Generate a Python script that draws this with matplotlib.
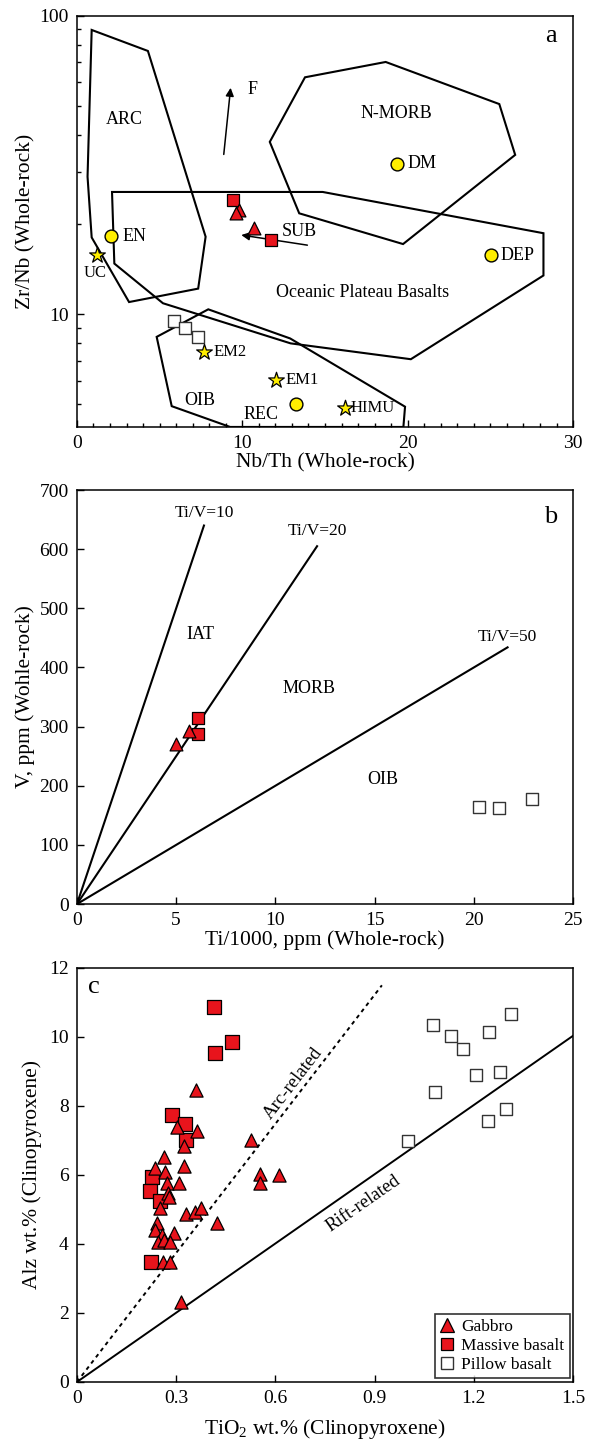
import numpy as np
import matplotlib
matplotlib.use("Agg")
import matplotlib.pyplot as plt
from matplotlib.lines import Line2D
from matplotlib.ticker import MultipleLocator, FixedLocator, NullFormatter, FuncFormatter

plt.rcParams['font.family'] = ['Liberation Serif', 'DejaVu Serif']
plt.rcParams['mathtext.fontset'] = 'custom'
plt.rcParams['mathtext.rm'] = 'Liberation Serif'
plt.rcParams['axes.linewidth'] = 1.1

# ---- panel a: Zr/Nb vs Nb/Th ----
arc_x = [0.89, 4.29, 7.78, 7.33, 3.15, 0.89, 0.64]
arc_y = [89.6, 76.2, 18.2, 12.2, 11.0, 18.1, 28.9]
nmorb_x = [13.79, 18.67, 25.54, 26.5, 19.72, 13.44, 11.66]
nmorb_y = [62.2, 70.0, 50.6, 34.2, 17.2, 21.8, 37.8]
opb_x = [2.12, 14.86, 28.21, 28.21, 20.19, 12.92, 5.20, 2.26]
opb_y = [25.7, 25.7, 18.7, 13.5, 7.08, 8.0, 10.9, 14.8]
oib_x = [4.82, 7.94, 12.89, 19.84, 19.74, 9.26, 5.73]
oib_y = [8.41, 10.4, 8.31, 4.91, 4.2, 4.2, 4.93]

circle_names = ['DM', 'DEP', 'EN', 'REC']
circle_x = [19.38, 25.02, 2.08, 13.23]
circle_y = [32.0, 15.8, 18.3, 5.0]
star_names = ['UC', 'EM2', 'EM1', 'HIMU']
star_x = [1.19, 7.68, 12.04, 16.21]
star_y = [15.8, 7.46, 6.03, 4.87]

a_gabbro_x = [9.77, 9.61, 10.68]
a_gabbro_y = [22.3, 21.8, 19.5]
a_massive_x = [9.43, 11.73]
a_massive_y = [24.2, 17.7]
a_pillow_x = [5.87, 6.53, 7.34]
a_pillow_y = [9.5, 9.02, 8.41]

# ---- panel b: V vs Ti/1000 ----
b_ratio = [10, 20, 50]
b_line_end_x = [6.4, 12.1, 21.7]
b_gabbro_x = [4.99, 5.66]
b_gabbro_y = [271, 293]
b_massive_x = [6.12, 6.12]
b_massive_y = [314, 288]
b_pillow_x = [20.28, 21.29, 22.94]
b_pillow_y = [164, 163, 177]

# ---- panel c: Alz vs TiO2 (clinopyroxene) ----
c_gabbro_x = [0.361, 0.301, 0.363, 0.325, 0.527, 0.264, 0.235, 0.265, 0.324,
              0.272, 0.308, 0.554, 0.554, 0.611, 0.275, 0.277, 0.250, 0.331,
              0.358, 0.374, 0.424, 0.242, 0.237, 0.293, 0.257, 0.244, 0.262,
              0.282, 0.260, 0.280, 0.315]
c_gabbro_y = [8.46, 7.40, 7.26, 6.84, 7.01, 6.53, 6.19, 6.10, 6.27,
              5.78, 5.78, 6.02, 5.78, 6.00, 5.47, 5.35, 5.03, 4.87,
              4.94, 5.03, 4.60, 4.60, 4.41, 4.31, 4.26, 4.07, 4.12,
              4.07, 3.49, 3.49, 2.33]
c_massive_x = [0.414, 0.417, 0.468, 0.288, 0.326, 0.329, 0.227, 0.220, 0.250, 0.225]
c_massive_y = [10.88, 9.53, 9.85, 7.74, 7.48, 7.01, 5.95, 5.54, 5.25, 3.49]
c_pillow_x = [1.077, 1.130, 1.166, 1.247, 1.312, 1.207, 1.279, 1.082, 1.297, 1.244, 1.001]
c_pillow_y = [10.35, 10.04, 9.65, 10.13, 10.66, 8.90, 8.99, 8.41, 7.90, 7.57, 6.99]
c_arc_slope, c_arc_end = 12.47, 0.922
c_rift_slope, c_rift_end = 6.69, 1.5

RED = '#e8141c'
YEL = '#ffee00'
TICK = 14
LAB = 15.5
ANN = 13

fig = plt.figure(figsize=(5.92, 14.4), dpi=100)
axa = fig.add_axes([0.130, 0.7035, 0.838, 0.2856])
axb = fig.add_axes([0.130, 0.3722, 0.838, 0.2875])
axc = fig.add_axes([0.130, 0.0403, 0.838, 0.2875])

for ax in (axa, axb, axc):
    ax.tick_params(direction='in', which='both', labelsize=TICK, width=1.0)
    ax.tick_params(which='major', length=5, pad=6)
    ax.tick_params(which='minor', length=3)

# panel a
for px, py in [(arc_x, arc_y), (nmorb_x, nmorb_y), (opb_x, opb_y), (oib_x, oib_y)]:
    axa.fill(px, py, facecolor='none', edgecolor='k', lw=1.5, zorder=2)
axa.annotate('', xy=(9.31, 58.6), xytext=(8.86, 33.6),
             arrowprops=dict(arrowstyle='-|>', color='k', lw=1.1, mutation_scale=12))
axa.annotate('', xy=(9.77, 18.5), xytext=(14.1, 17.0),
             arrowprops=dict(arrowstyle='-|>', color='k', lw=1.1, mutation_scale=12))
axa.text(10.3, 56.4, 'F', fontsize=ANN, ha='left', va='center')
axa.text(12.4, 18.9, 'SUB', fontsize=ANN, ha='left', va='center')
axa.text(2.87, 45.1, 'ARC', fontsize=ANN, ha='center', va='center')
axa.text(19.31, 47.1, 'N-MORB', fontsize=ANN, ha='center', va='center')
axa.text(17.26, 11.8, 'Oceanic Plateau Basalts', fontsize=ANN, ha='center', va='center')
axa.text(7.44, 5.16, 'OIB', fontsize=ANN, ha='center', va='center')

axa.scatter(circle_x, circle_y, s=85, marker='o', facecolor=YEL, edgecolor='k', lw=1.0, zorder=4)
axa.scatter(star_x, star_y, s=140, marker='*', facecolor=YEL, edgecolor='k', lw=0.9, zorder=4)
circle_off = [(7, 0, 'left'), (7, 0, 'left'), (8, 0, 'left'), (-25, -7, 'center')]
star_off = [(-1, -13, 'center'), (7, 0, 'left'), (7, 0, 'left'), (4, 0, 'left')]
for name, x, y, (dx, dy, ha) in zip(circle_names + star_names, circle_x + star_x,
                                    circle_y + star_y, circle_off + star_off):
    fs = 12 if name in ('UC', 'EM2', 'EM1', 'HIMU') else ANN
    axa.annotate(name, (x, y), xytext=(dx, dy), textcoords='offset points',
                 ha=ha, va='center', fontsize=fs)

axa.scatter(a_pillow_x, a_pillow_y, s=75, marker='s', facecolor='white', edgecolor='#333333', lw=1.0, zorder=3)
axa.scatter(a_massive_x, a_massive_y, s=80, marker='s', facecolor=RED, edgecolor='k', lw=0.9, zorder=3)
axa.scatter(a_gabbro_x, a_gabbro_y, s=85, marker='^', facecolor=RED, edgecolor='k', lw=0.9, zorder=3)

axa.set_yscale('log')
axa.set_xlim(0, 30)
axa.set_ylim(4.2, 100)
axa.xaxis.set_major_locator(MultipleLocator(10))
axa.xaxis.set_minor_locator(MultipleLocator(1))
axa.yaxis.set_major_locator(FixedLocator([10, 100]))
axa.yaxis.set_major_formatter(FuncFormatter(lambda v, _: f'{v:g}'))
axa.yaxis.set_minor_formatter(NullFormatter())
axa.set_xlabel('Nb/Th (Whole-rock)', fontsize=LAB, labelpad=1)
axa.set_ylabel('Zr/Nb (Whole-rock)', fontsize=LAB, labelpad=3)
axa.text(0.955, 0.95, 'a', transform=axa.transAxes, fontsize=19, ha='center', va='center')

# panel b
b_label_y = [662, 630, 452]
for r, xe, ly in zip(b_ratio, b_line_end_x, b_label_y):
    xs = np.array([0, xe])
    axb.plot(xs, 1000 * xs / r, color='k', lw=1.5, zorder=2)
    axb.text(xe, ly, f'Ti/V={r}', fontsize=12.5, ha='center', va='center')
axb.text(6.21, 456, 'IAT', fontsize=ANN, ha='center', va='center')
axb.text(11.7, 364, 'MORB', fontsize=ANN, ha='center', va='center')
axb.text(15.4, 211, 'OIB', fontsize=ANN, ha='center', va='center')
axb.scatter(b_pillow_x, b_pillow_y, s=80, marker='s', facecolor='white', edgecolor='#333333', lw=1.0, zorder=3)
axb.scatter(b_massive_x, b_massive_y, s=85, marker='s', facecolor=RED, edgecolor='k', lw=0.9, zorder=3)
axb.scatter(b_gabbro_x, b_gabbro_y, s=85, marker='^', facecolor=RED, edgecolor='k', lw=0.9, zorder=3)
axb.set_xlim(0, 25)
axb.set_ylim(0, 700)
axb.xaxis.set_major_locator(MultipleLocator(5))
axb.yaxis.set_major_locator(MultipleLocator(100))
axb.set_xlabel('Ti/1000, ppm (Whole-rock)', fontsize=LAB, labelpad=1)
axb.set_ylabel('V, ppm (Wohle-rock)', fontsize=LAB, labelpad=3)
axb.text(0.955, 0.935, 'b', transform=axb.transAxes, fontsize=19, ha='center', va='center')

# panel c
xa = np.array([0, c_arc_end])
axc.plot(xa, c_arc_slope * xa, color='k', lw=1.4, ls=(0, (2, 2)), zorder=2)
xr = np.array([0, c_rift_end])
axc.plot(xr, c_rift_slope * xr, color='k', lw=1.4, zorder=2)
axc.text(0.655, 8.65, 'Arc-related', fontsize=13.5, ha='center', va='center',
         rotation=np.degrees(np.arctan(c_arc_slope)), rotation_mode='anchor',
         transform_rotates_text=True)
axc.text(0.865, 5.18, 'Rift-related', fontsize=13.5, ha='center', va='center',
         rotation=np.degrees(np.arctan(c_rift_slope)), rotation_mode='anchor',
         transform_rotates_text=True)
axc.scatter(c_pillow_x, c_pillow_y, s=85, marker='s', facecolor='white', edgecolor='#333333', lw=1.0, zorder=3)
axc.scatter(c_massive_x, c_massive_y, s=90, marker='s', facecolor=RED, edgecolor='k', lw=0.9, zorder=3)
axc.scatter(c_gabbro_x, c_gabbro_y, s=90, marker='^', facecolor=RED, edgecolor='k', lw=0.9, zorder=4)
axc.set_xlim(0, 1.5)
axc.set_ylim(0, 12)
axc.xaxis.set_major_locator(MultipleLocator(0.3))
axc.xaxis.set_major_formatter(FuncFormatter(lambda v, _: '0' if abs(v) < 1e-9 else f'{v:.1f}'))
axc.yaxis.set_major_locator(MultipleLocator(2))
axc.set_xlabel('TiO$_2$ wt.% (Clinopyroxene)', fontsize=LAB, labelpad=7)
axc.set_ylabel('Alz wt.% (Clinopyroxene)', fontsize=LAB, labelpad=5)
axc.text(0.035, 0.955, 'c', transform=axc.transAxes, fontsize=19, ha='center', va='center')

handles = [
    Line2D([], [], ls='none', marker='^', ms=10, mfc=RED, mec='k', mew=0.9, label='Gabbro'),
    Line2D([], [], ls='none', marker='s', ms=9, mfc=RED, mec='k', mew=0.9, label='Massive basalt'),
    Line2D([], [], ls='none', marker='s', ms=9, mfc='white', mec='#333333', mew=1.0, label='Pillow basalt'),
]
leg = axc.legend(handles=handles, loc='lower right', bbox_to_anchor=(0.993, 0.01),
                 fontsize=12.5, frameon=True, fancybox=False, edgecolor='k',
                 handlelength=0.8, handletextpad=0.4, borderpad=0.3, labelspacing=0.15,
                 borderaxespad=0.0)
leg.get_frame().set_linewidth(1.2)

fig.savefig('out.png', dpi=100)
